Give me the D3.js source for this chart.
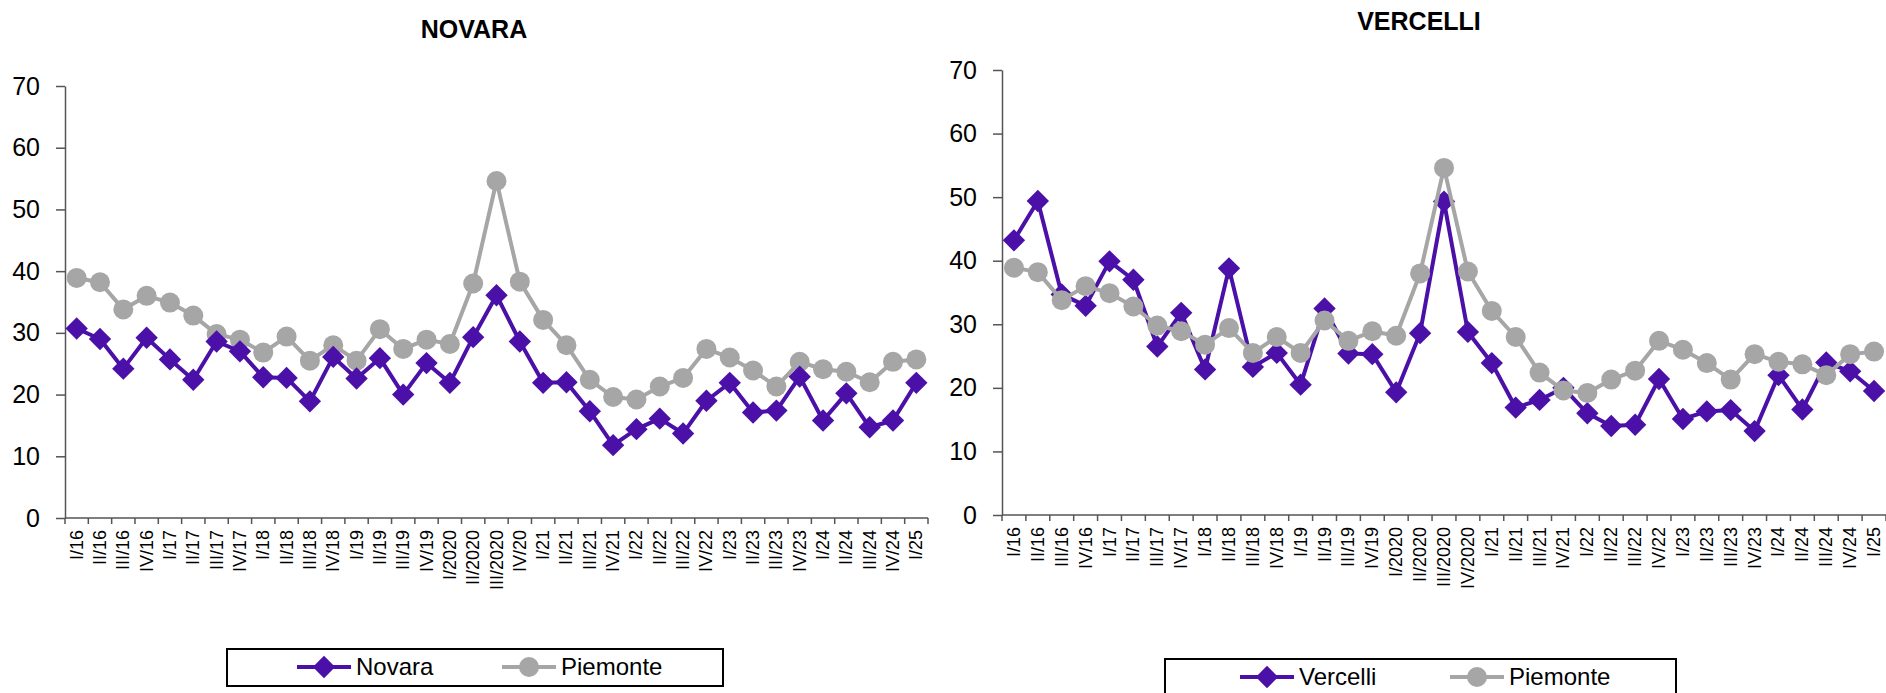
<!DOCTYPE html>
<html>
<head>
<meta charset="utf-8">
<script src="https://cdn.jsdelivr.net/npm/d3@7"></script>
<style>
  html, body { margin: 0; padding: 0; background: #fff; }
  svg { display: block; font-family: "Liberation Sans", Arial, sans-serif; }
</style>
</head>
<body>
<svg id="chart" width="1886" height="693"></svg>
<script>
const categories = ["I/16","II/16","III/16","IV/16","I/17","II/17","III/17","IV/17","I/18","II/18","III/18","IV/18","I/19","II/19","III/19","IV/19","I/2020","II/2020","III/2020","IV/20","I/21","II/21","III/21","IV/21","I/22","II/22","III/22","IV/22","I/23","II/23","III/23","IV/23","I/24","II/24","III/24","IV/24","I/25"];
const categoriesVercelli = ["I/16","II/16","III/16","IV/16","I/17","II/17","III/17","IV/17","I/18","II/18","III/18","IV/18","I/19","II/19","III/19","IV/19","I/2020","II/2020","III/2020","IV/2020","I/21","II/21","III/21","IV/21","I/22","II/22","III/22","IV/22","I/23","II/23","III/23","IV/23","I/24","II/24","III/24","IV/24","I/25"];
const novara = [30.7,29.0,24.2,29.2,25.7,22.4,28.6,27.0,22.8,22.7,18.9,26.1,22.6,25.9,20.0,25.1,21.9,29.3,36.1,28.6,21.9,22.0,17.3,11.8,14.4,16.1,13.7,19.0,21.9,17.1,17.4,22.9,15.8,20.2,14.7,15.8,21.9];
const vercelli = [43.2,49.4,34.7,32.9,39.9,37.0,26.5,31.8,22.9,38.8,23.3,25.5,20.5,32.5,25.4,25.3,19.3,28.6,49.3,28.8,23.9,16.9,18.1,20.0,16.0,14.0,14.2,21.4,15.1,16.3,16.5,13.2,22.0,16.6,24.0,22.6,19.5];
const piemonte = [38.9,38.2,33.8,36.0,34.9,32.8,29.8,28.9,26.8,29.4,25.5,28.0,25.5,30.6,27.4,28.9,28.2,38.0,54.6,38.3,32.1,28.0,22.4,19.6,19.2,21.3,22.7,27.4,26.0,23.9,21.3,25.3,24.1,23.7,22.0,25.3,25.7];
const yTicks = [0,10,20,30,40,50,60,70];

const PURPLE = "#4A10A8";
const GREY = "#A6A6A6";
const AXIS = "#555555";

const svg = d3.select("#chart");

function diamondPath() { return d3.symbol(d3.symbolSquare, 250)(); }
function circlePath() { return d3.symbol(d3.symbolCircle, Math.PI * 100)(); }

function drawChart(cfg) {
  const g = svg.append("g");
  const x = d3.scaleBand().domain(cfg.cats).range([cfg.x0, cfg.x1]).padding(0);
  const y = d3.scaleLinear().domain([0, 70]).range([cfg.yBottom, cfg.yTop]);

  g.append("text").attr("x", cfg.titleX).attr("y", cfg.titleY)
    .attr("text-anchor", "middle").attr("font-size", 25).attr("font-weight", "bold")
    .text(cfg.title);

  const yAxis = d3.axisLeft(y).tickValues(yTicks).tickSize(9).tickPadding(16).tickSizeOuter(0);
  const ya = g.append("g").attr("transform", `translate(${cfg.x0},0)`).call(yAxis);
  ya.select(".domain").attr("stroke", AXIS).attr("stroke-width", 1.5);
  ya.selectAll(".tick line").attr("stroke", AXIS).attr("stroke-width", 1.5);
  ya.selectAll(".tick text").attr("font-size", 25).attr("fill", "#000")
    .attr("font-family", "Liberation Sans, Arial, sans-serif");

  const xa = g.append("g").attr("transform", `translate(0,${cfg.yBottom})`);
  xa.append("line").attr("x1", cfg.x0).attr("x2", cfg.x1).attr("y1", 0).attr("y2", 0)
    .attr("stroke", AXIS).attr("stroke-width", 1.5);
  const bounds = cfg.cats.map(c => x(c)).concat([cfg.x1]);
  xa.selectAll("line.tk").data(bounds).enter().append("line").attr("class", "tk")
    .attr("x1", d => d).attr("x2", d => d).attr("y1", 0).attr("y2", 6)
    .attr("stroke", AXIS).attr("stroke-width", 1.5);
  xa.selectAll("text.lbl").data(cfg.cats).enter().append("text").attr("class", "lbl")
    .attr("transform", d => `translate(${x(d) + x.bandwidth() / 2 + 6},12) rotate(-90)`)
    .attr("text-anchor", "end").attr("font-size", 18).attr("fill", "#000")
    .text(d => d);

  const cx = (d, i) => x(cfg.cats[i]) + x.bandwidth() / 2;
  const line = d3.line().x((d, i) => cx(d, i)).y(d => y(d));

  function drawSeries(vals, color, type) {
    g.append("path").datum(vals).attr("d", line).attr("fill", "none")
      .attr("stroke", color).attr("stroke-width", 4).attr("stroke-linejoin", "round");
    g.selectAll(null).data(vals).enter().append("path")
      .attr("d", type === "diamond" ? diamondPath() : circlePath())
      .attr("transform", (d, i) => `translate(${cx(d, i)},${y(d)})` + (type === "diamond" ? " rotate(45)" : ""))
      .attr("fill", color);
  }
  if (cfg.localOnTop) {
    drawSeries(piemonte, GREY, "circle");
    drawSeries(cfg.local, PURPLE, "diamond");
  } else {
    drawSeries(cfg.local, PURPLE, "diamond");
    drawSeries(piemonte, GREY, "circle");
  }

  const lg = svg.append("g");
  lg.append("rect").attr("x", cfg.leg.x).attr("y", cfg.leg.y).attr("width", cfg.leg.w).attr("height", cfg.leg.h)
    .attr("fill", "#fff").attr("stroke", "#000").attr("stroke-width", 2);
  const items = [
    { name: cfg.localName, color: PURPLE, type: "diamond", lx: cfg.leg.i1 },
    { name: "Piemonte", color: GREY, type: "circle", lx: cfg.leg.i2 }
  ];
  items.forEach(it => {
    const cy = cfg.leg.cy;
    lg.append("line").attr("x1", it.lx).attr("x2", it.lx + 54).attr("y1", cy).attr("y2", cy)
      .attr("stroke", it.color).attr("stroke-width", 4);
    lg.append("path").attr("d", it.type === "diamond" ? diamondPath() : circlePath())
      .attr("transform", `translate(${it.lx + 27},${cy})` + (it.type === "diamond" ? " rotate(45)" : ""))
      .attr("fill", it.color);
    lg.append("text").attr("x", it.lx + 59).attr("y", cy).attr("dy", "0.35em")
      .attr("font-size", 24).attr("fill", "#000").text(it.name);
  });
}

drawChart({
  title: "NOVARA", titleX: 474, titleY: 38,
  cats: categories, local: novara, localName: "Novara", localOnTop: true,
  x0: 65, x1: 928, yTop: 86, yBottom: 518,
  leg: { x: 227, y: 649, w: 496, h: 37, cy: 667, i1: 297, i2: 502 }
});
drawChart({
  title: "VERCELLI", titleX: 1419, titleY: 30,
  cats: categoriesVercelli, local: vercelli, localName: "Vercelli", localOnTop: false,
  x0: 1002, x1: 1886, yTop: 70, yBottom: 515,
  leg: { x: 1165, y: 659, w: 511, h: 40, cy: 677, i1: 1240, i2: 1450 }
});
</script>
</body>
</html>
